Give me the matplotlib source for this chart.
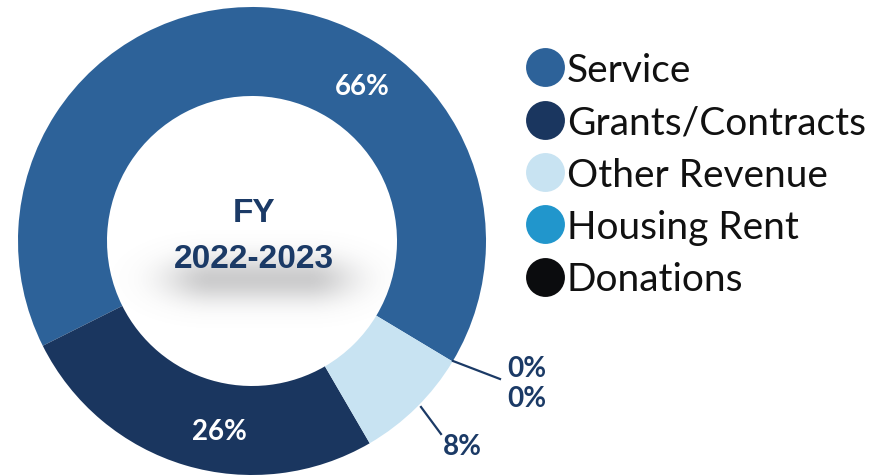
import numpy as np
import matplotlib
matplotlib.use("Agg")
import matplotlib.pyplot as plt
from matplotlib.lines import Line2D

categories = ["Service", "Grants/Contracts", "Other Revenue", "Housing Rent", "Donations"]
values = [66, 26, 8, 0, 0]
colors = ["#2D6299", "#1A365F", "#C8E3F2", "#2196CC", "#0B0C0E"]
title_line1 = "FY"
title_line2 = "2022-2023"

W, H = 889, 477
fig = plt.figure(figsize=(W / 100, H / 100), dpi=100)
ax = fig.add_axes([0, 0, 1, 1])

cx, cy, R = 252, 477 - 242, 234
inner = 145

# soft shadow behind center text
gx = np.linspace(-1, 1, 300)
gy = np.linspace(-1, 1, 150)
X, Y = np.meshgrid(gx, gy)
d = (np.maximum(np.abs(X) - 0.3, 0) / 0.36) ** 2 + (Y / 0.5) ** 2
alpha = np.exp(-d * 1.4) * 0.36
img = np.zeros((150, 300, 4))
img[..., 0] = 0.45
img[..., 1] = 0.45
img[..., 2] = 0.46
img[..., 3] = alpha
ax.imshow(img, extent=(cx - 150, cx + 165, H - 335, H - 225), zorder=1,
          interpolation="bilinear", aspect="auto")

wedges, _ = ax.pie(values, colors=colors, startangle=-31, counterclock=True,
                   radius=R, center=(cx, cy), wedgeprops=dict(width=R - inner, linewidth=0),
                   frame=True)
ax.set_xlim(0, W)
ax.set_ylim(0, H)
ax.set_aspect("equal")
ax.axis("off")

ctr_font = ["Liberation Sans", "DejaVu Sans"]
pct_font = ["Lato", "DejaVu Sans"]
navy = "#1B3A66"
ax.text(cx + 2, H - 213, title_line1, ha="center", va="center", fontsize=24, fontweight="bold",
        color=navy, family=ctr_font, zorder=3)
ax.text(cx + 2, H - 260, title_line2, ha="center", va="center", fontsize=24, fontweight="bold",
        color=navy, family=ctr_font, zorder=3)

pk = dict(ha="center", va="center", fontsize=20, fontweight="bold", family=pct_font)
ax.text(362, H - 87, f"{values[0]}%", color="white", **pk)
ax.text(219, H - 432, f"{values[1]}%", color="white", **pk)
ax.text(462, H - 447, f"{values[2]}%", color=navy, **pk)
ax.text(527, H - 369, f"{values[3]}%", color=navy, **pk)
ax.text(527, H - 399, f"{values[4]}%", color=navy, **pk)
ax.plot([453, 500], [H - 362, H - 380], color=navy, lw=1.6)
ax.plot([421, 441], [H - 408, H - 435], color=navy, lw=1.6)

handles = [Line2D([], [], marker="o", linestyle="none", markersize=28, markerfacecolor=c,
                  markeredgewidth=0) for c in colors]
leg = ax.legend(handles, categories, loc="upper left", bbox_to_anchor=(528 / W, 1 - 53 / H),
                bbox_transform=fig.transFigure, frameon=False, handlelength=0.85,
                handletextpad=0.15, labelspacing=0.42, borderaxespad=0, borderpad=0,
                prop=dict(family=["Lato", "DejaVu Sans"], size=28))
for t in leg.get_texts():
    t.set_color("#111111")

fig.savefig("out.png", dpi=100, facecolor="white")
